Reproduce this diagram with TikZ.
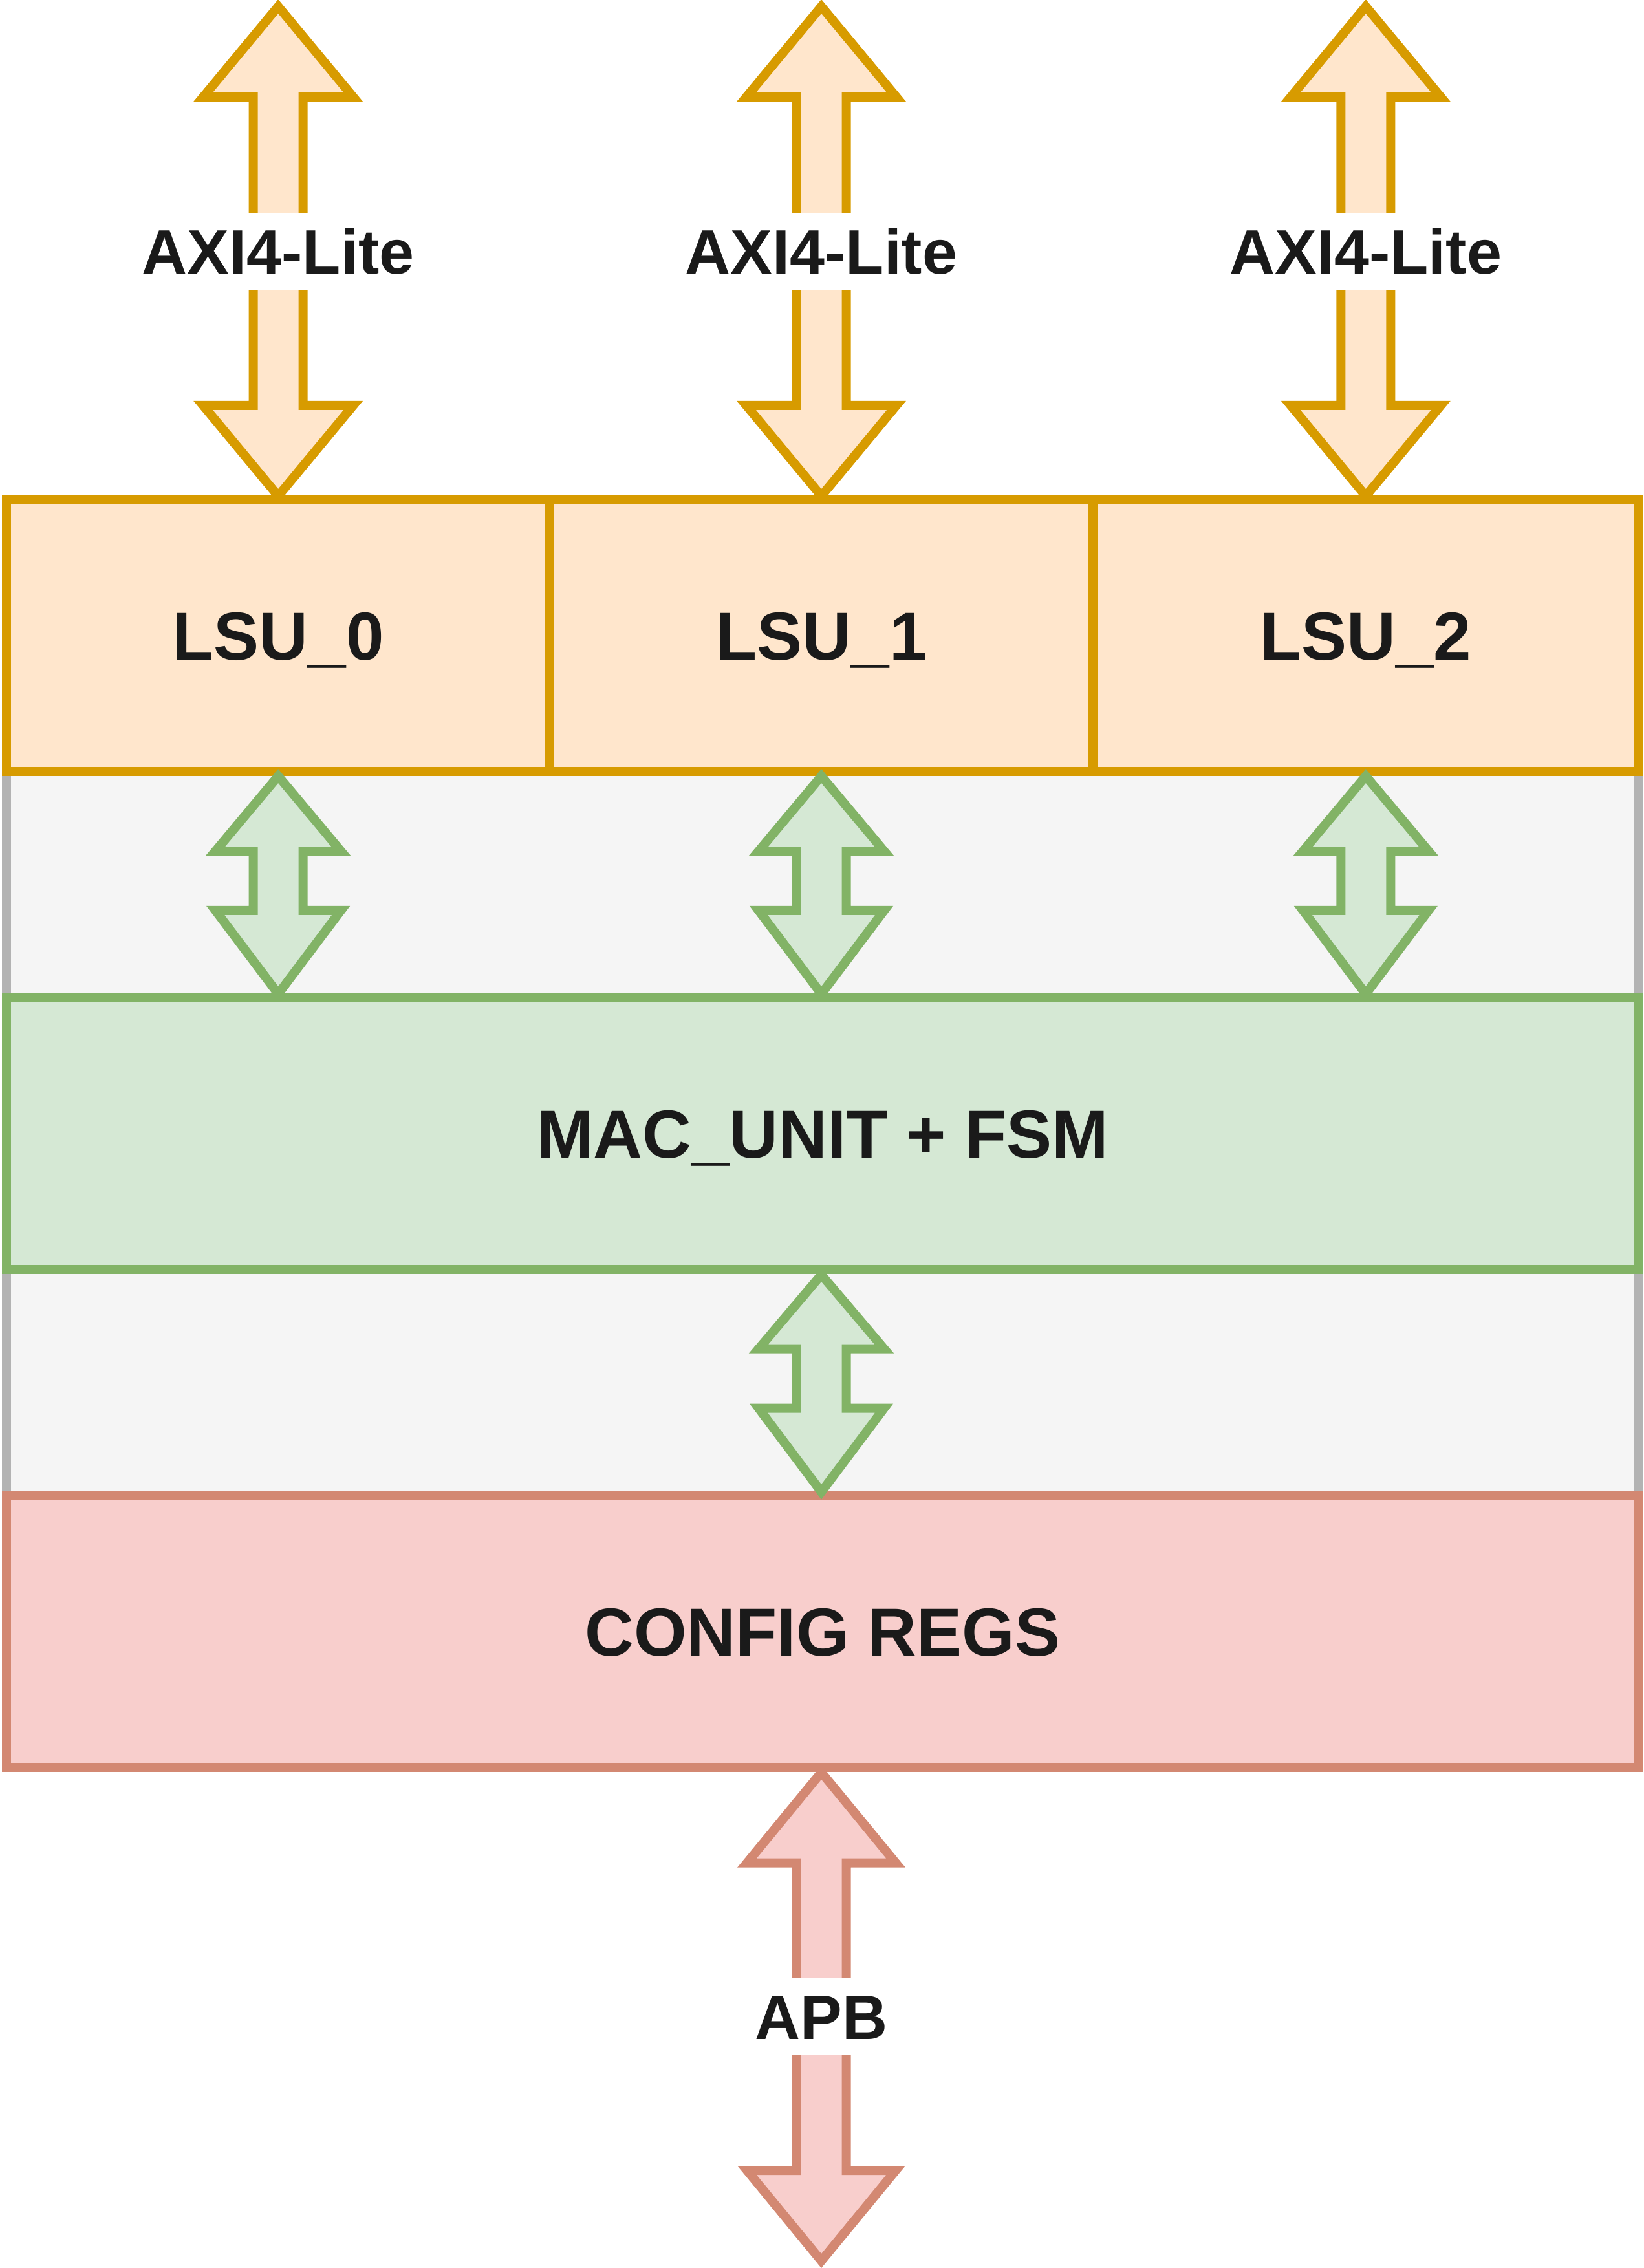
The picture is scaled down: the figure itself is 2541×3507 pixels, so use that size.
\documentclass[tikz,border=0pt]{standalone}
\usepackage{fontspec}
\setmainfont{Liberation Sans}
\usetikzlibrary{calc,backgrounds}
\definecolor{orfill}{HTML}{FFE6CC}
\definecolor{ordraw}{HTML}{D79B00}
\definecolor{grfill}{HTML}{D5E8D4}
\definecolor{grdraw}{HTML}{82B366}
\definecolor{rdfill}{HTML}{F8CECC}
\definecolor{rddraw}{RGB}{211,136,114}
\definecolor{bgfill}{HTML}{F5F5F5}
\definecolor{bgdraw}{HTML}{B3B3B3}
\definecolor{txt}{HTML}{1A1A1A}
% #1 style, #2 top tip, #3 bottom tip, #4 top head length, #5 bottom head length, #6 head half width, #7 shaft half width
\newcommand\myblockarrow[7]{%
  \draw[#1] (#2) -- ++(-#6,#4) -- ++({#6-#7},0) -- ($(#3)+(-#7,-#5)$) -- ++({#7-#6},0)
    -- (#3) -- ++(#6,-#5) -- ++({#7-#6},0) -- ($(#2)+(#7,#4)$) -- ++({#6-#7},0) -- cycle;}
\begin{document}
\begin{tikzpicture}[x=0.25pt,y=-0.25pt,line width=3.5pt,line join=miter,
  box/.style={rectangle,inner sep=0pt,outer sep=0pt,text=txt,
    font=\fontsize{26.25}{30}\selectfont\bfseries,text height=18.8pt,text depth=0pt},
  lsubox/.style={box,fill=orfill,draw=ordraw,minimum height=105pt},
  macbox/.style={box,fill=grfill,draw=grdraw,minimum height=104.9pt,minimum width=630.8pt},
  cfgbox/.style={box,fill=rdfill,draw=rddraw,minimum height=105pt,minimum width=630.8pt},
  band/.style={fill=bgfill,draw=bgdraw,line width=3.5pt},
  axiarrow/.style={fill=orfill,draw=ordraw},
  grarrow/.style={fill=grfill,draw=grdraw},
  apbarrow/.style={fill=rdfill,draw=rddraw},
  buslabel/.style={rectangle,fill=white,inner sep=0pt,inner xsep=6pt,outer sep=0pt,
    minimum height=29.75pt,text=txt,font=\fontsize{24.25}{28}\selectfont\bfseries,
    text height=17.4pt,text depth=0pt}]
\useasboundingbox (0,0) rectangle (2541,3507);

% blocks
\node[lsubox,minimum width=209.925pt] (lsu0) at (430.15,983) {LSU\_0};
\node[lsubox,minimum width=210pt] (lsu1) at (1270,983) {LSU\_1};
\node[lsubox,minimum width=210.9pt] (lsu2) at (2111.8,983) {LSU\_2};
\node[macbox] (mac) at (1271.95,1753.25) {MAC\_UNIT + FSM};
\node[cfgbox] (cfg) at (1271.95,2523) {CONFIG REGS};

\begin{scope}[on background layer]
  \draw[band] (lsu0.south west) rectangle (cfg.north east);
\end{scope}

% AXI4-Lite arrows
\foreach \n in {0,1,2}{
  \coordinate (axt\n) at (lsu\n.north |- 0,10);
  \coordinate (axb\n) at ($(lsu\n.north)+(0,-6)$);
  \myblockarrow{axiarrow}{axt\n}{axb\n}{140}{140}{116}{38.5}
  \node[buslabel] (axl\n) at (lsu\n.north |- 0,388.5) {AXI4-Lite};
}

% LSU <-> MAC arrows
\foreach \n in {0,1,2}{
  \coordinate (gt\n) at ($(lsu\n.south)+(0,7)$);
  \coordinate (gb\n) at ($(lsu\n.south |- mac.north)+(0,-6.5)$);
  \myblockarrow{grarrow}{gt\n}{gb\n}{116}{129}{97}{38.5}
}

% MAC <-> CONFIG arrow
\coordinate (mct) at ($(lsu1.south |- mac.south)+(0,8)$);
\coordinate (mcb) at ($(lsu1.south |- cfg.north)+(0,-6)$);
\myblockarrow{grarrow}{mct}{mcb}{114.5}{129.5}{97}{38.5}

% APB arrow
\coordinate (apt) at ($(lsu1.south |- cfg.south)+(0,7.5)$);
\coordinate (apb) at (lsu1.south |- 0,3496);
\myblockarrow{apbarrow}{apt}{apb}{140}{140}{115}{38.5}
\node[buslabel] (apbl) at (lsu1.south |- 0,3118.5) {APB};
\end{tikzpicture}
\end{document}
